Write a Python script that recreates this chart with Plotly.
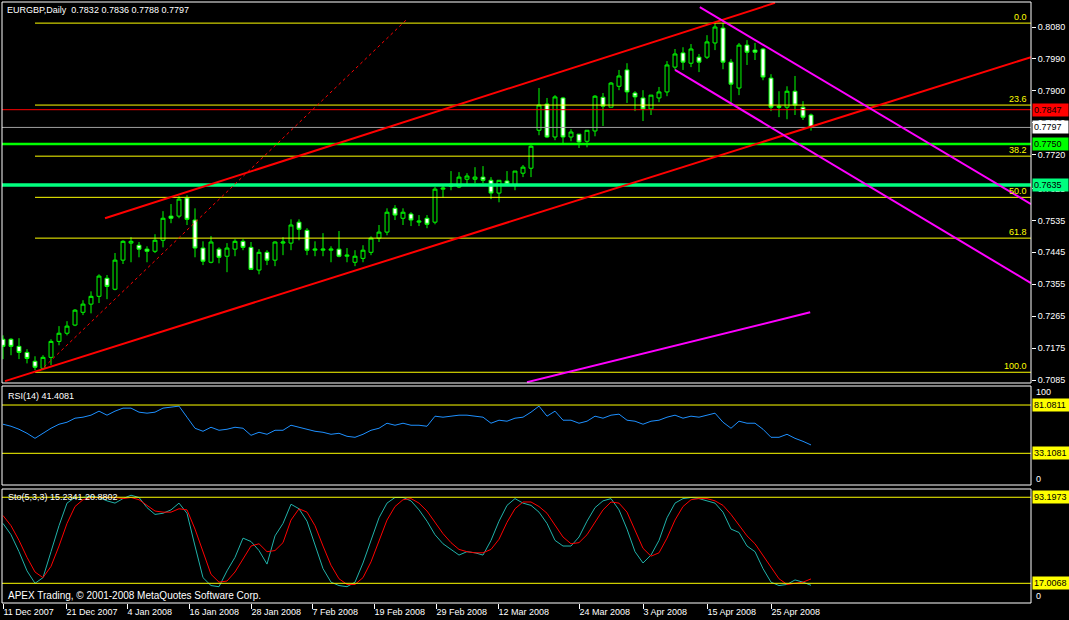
import plotly.graph_objects as go

# ---------------- data ----------------
bar_idx = list(range(102))
opens = [0.7200,0.7200,0.7180,0.7163,0.7138,0.7118,0.7149,0.7194,0.7217,0.7240,
0.7276,0.7299,0.7321,0.7372,0.7341,0.7423,0.7471,0.7465,0.7454,0.7448,
0.7479,0.7547,0.7547,0.7598,0.7536,0.7457,0.7417,0.7454,0.7434,0.7454,
0.7476,0.7459,0.7395,0.7445,0.7423,0.7471,0.7471,0.7530,0.7507,0.7451,
0.7451,0.7451,0.7454,0.7434,0.7417,0.7428,0.7445,0.7485,0.7502,0.7569,
0.7541,0.7553,0.7530,0.7541,0.7530,0.7623,0.7631,0.7629,0.7651,0.7651,
0.7657,0.7648,0.7612,0.7646,0.7634,0.7668,0.7682,0.7789,0.7863,0.7770,
0.7880,0.7770,0.7778,0.7758,0.7787,0.7882,0.7854,0.7913,0.7959,0.7894,
0.7880,0.7849,0.7880,0.7897,0.7967,0.8007,0.7978,0.7995,0.7995,0.8035,
0.8077,0.7981,0.7908,0.8029,0.8015,0.8018,0.7936,0.7857,0.7854,0.7899,
0.7854,0.7832]
closes = [0.7180,0.7180,0.7163,0.7146,0.7121,0.7149,0.7194,0.7217,0.7237,0.7282,
0.7299,0.7321,0.7378,0.7349,0.7423,0.7476,0.7476,0.7454,0.7448,0.7479,
0.7541,0.7541,0.7595,0.7538,0.7457,0.7420,0.7474,0.7431,0.7457,0.7476,
0.7459,0.7397,0.7445,0.7423,0.7474,0.7474,0.7522,0.7510,0.7451,0.7454,
0.7454,0.7454,0.7434,0.7437,0.7434,0.7451,0.7485,0.7502,0.7558,0.7550,
0.7558,0.7536,0.7533,0.7524,0.7623,0.7626,0.7637,0.7657,0.7660,0.7657,
0.7648,0.7612,0.7648,0.7637,0.7674,0.7685,0.7744,0.7860,0.7770,0.7883,
0.7770,0.7784,0.7756,0.7789,0.7885,0.7857,0.7922,0.7942,0.7897,0.7883,
0.7849,0.7888,0.7897,0.7973,0.8004,0.7981,0.8018,0.7981,0.8038,0.8080,
0.7981,0.7919,0.8029,0.8009,0.8009,0.7939,0.7854,0.7854,0.7899,0.7860,
0.7826,0.7797]
highs = [0.7211,0.7203,0.7203,0.7172,0.7152,0.7155,0.7200,0.7237,0.7251,0.7285,
0.7310,0.7335,0.7383,0.7381,0.7443,0.7479,0.7488,0.7474,0.7462,0.7496,
0.7561,0.7581,0.7603,0.7606,0.7569,0.7476,0.7491,0.7459,0.7471,0.7482,
0.7482,0.7474,0.7454,0.7451,0.7476,0.7488,0.7538,0.7538,0.7513,0.7476,
0.7499,0.7462,0.7505,0.7457,0.7451,0.7465,0.7490,0.7522,0.7569,0.7578,
0.7569,0.7558,0.7550,0.7550,0.7629,0.7637,0.7674,0.7671,0.7668,0.7685,
0.7688,0.7657,0.7648,0.7674,0.7674,0.7691,0.7747,0.7908,0.7880,0.7888,
0.7883,0.7792,0.7778,0.7789,0.7888,0.7894,0.7925,0.7959,0.7978,0.7899,
0.7902,0.7888,0.7911,0.7984,0.8018,0.8023,0.8032,0.8004,0.8057,0.8094,
0.8091,0.7990,0.8035,0.8043,0.8035,0.8021,0.7947,0.7899,0.7913,0.7942,
0.7871,0.7836]
lows = [0.7144,0.7155,0.7144,0.7132,0.7113,0.7113,0.7127,0.7183,0.7211,0.7237,
0.7268,0.7273,0.7302,0.7313,0.7338,0.7412,0.7417,0.7431,0.7417,0.7443,
0.7459,0.7527,0.7541,0.7522,0.7431,0.7409,0.7414,0.7414,0.7389,0.7434,
0.7451,0.7395,0.7383,0.7409,0.7406,0.7437,0.7451,0.7479,0.7437,0.7434,
0.7434,0.7417,0.7431,0.7417,0.7406,0.7417,0.7437,0.7474,0.7493,0.7536,
0.7522,0.7519,0.7519,0.7513,0.7524,0.7600,0.7620,0.7626,0.7634,0.7640,
0.7640,0.7595,0.7586,0.7634,0.7620,0.7657,0.7657,0.7775,0.7767,0.7761,
0.7753,0.7758,0.7739,0.7741,0.7772,0.7801,0.7854,0.7902,0.7866,0.7843,
0.7815,0.7832,0.7868,0.7885,0.7959,0.7959,0.7967,0.7953,0.7990,0.8015,
0.7961,0.7866,0.7888,0.7973,0.7987,0.7930,0.7843,0.7826,0.7820,0.7832,
0.7818,0.7788]

rsi = [62,60,57,53,48,53,58,62,64,68,
69,71,75,71,75,78,78,74,73,74,
78,79,80,69,58,55,59,56,57,59,
58,51,54,52,56,56,61,59,57,55,
54,52,53,50,49,52,56,58,63,61,
63,61,61,60,70,69,70,71,71,70,
69,63,66,65,68,69,74,80,70,75,
66,66,63,65,70,68,71,72,66,65,
62,65,66,69,71,68,70,69,71,73,
64,58,65,63,63,57,49,49,52,48,
45,41.4081]

stoch_k = [70,60,45,28,17,22,45,68,88,93,93,94,93,90,88,92,95,93,84,78,
79,82,88,79,50,22,15,14,28,40,57,54,46,34,59,70,87,83,
72,50,30,18,15,14,18,35,55,75,88,93,93,90,82,72,60,52,47,42,
45,44,42,55,72,86,92,88,86,80,70,55,50,50,58,72,84,90,92,82,
65,45,35,42,55,75,88,92,93,92,90,88,80,65,62,50,45,30,18,15,
16,20,18,15.2341]
stoch_d = [77,68,55,40,27,22,32,50,70,85,91,93,93,93,93,92,93,91,86,81,
80,80,83,82,65,45,25,18,19,27,39,50,52,45,46,53,73,83,
80,68,50,33,21,16,16,22,36,55,73,85,91,92,88,81,71,61,53,47,
45,44,44,47,56,71,83,89,89,85,79,68,58,52,53,60,71,82,89,88,
80,64,48,41,44,57,73,85,91,92,92,90,86,78,69,59,52,42,31,21,
16,17,18,20.8802]

date_labels = ["11 Dec 2007", "21 Dec 2007", "4 Jan 2008", "16 Jan 2008", "28 Jan 2008",
               "7 Feb 2008", "19 Feb 2008", "29 Feb 2008", "12 Mar 2008", "24 Mar 2008",
               "3 Apr 2008", "15 Apr 2008", "25 Apr 2008"]
date_bars = [0, 7.875, 15.5, 23.25, 31, 38.625, 46.375, 54.125, 61.875, 72, 80, 88, 96]

price_ticks = [0.8080, 0.7990, 0.7900, 0.7810, 0.7720, 0.7625, 0.7535, 0.7445,
               0.7355, 0.7265, 0.7175, 0.7085]

fib_names = ["0.0", "23.6", "38.2", "50.0", "61.8", "100.0"]
fib_prices = [0.8091, 0.7860, 0.7716, 0.7600, 0.7485, 0.7107]
fib_start_bar = 4

hline_prices = [0.7847, 0.7797, 0.7750, 0.7635]
hline_labels = ["0.7847", "0.7797", "0.7750", "0.7635"]

rsi_levels = [81.0811, 33.1081]
sto_levels = [93.1973, 17.0068]

# trend lines: (bar, price) anchor pairs
red_lower = [(0.25, 0.7082), (128.5, 0.7995)]
red_upper = [(12.75, 0.7541), (96.5, 0.8148)]
red_dotted = [(4.6, 0.7110), (50.5, 0.8102)]
mag_upper = [(87.1, 0.8136), (128.5, 0.7581)]
mag_lower = [(84.0, 0.7959), (128.5, 0.7358)]
mag_bottom = [(65.5, 0.7079), (100.9, 0.7276)]

# ---------------- layout helpers ----------------
W, H = 1069, 620
PT, PB, PL, PR = 2, 603, 2, 1031


def py(p):
    return (PB - p) / (PB - PT)


FONT = "Liberation Sans"
WHITE = "#FFFFFF"
YEL = "#FFFF00"
FS = 9

fig = go.Figure()

fig.add_trace(go.Candlestick(
    x=bar_idx, open=opens, high=highs, low=lows, close=closes,
    increasing=dict(line=dict(color="#00FF00", width=1), fillcolor="#000000"),
    decreasing=dict(line=dict(color="#00FF00", width=1), fillcolor="#FFFFFF"),
    whiskerwidth=0, xaxis="x", yaxis="y", hoverinfo="skip", showlegend=False))

fig.add_trace(go.Scatter(x=bar_idx, y=rsi, mode="lines", line=dict(color="#1E90FF", width=1),
                         xaxis="x2", yaxis="y2", hoverinfo="skip", showlegend=False))
fig.add_trace(go.Scatter(x=bar_idx, y=stoch_k, mode="lines", line=dict(color="#20B2AA", width=1),
                         xaxis="x3", yaxis="y3", hoverinfo="skip", showlegend=False))
fig.add_trace(go.Scatter(x=bar_idx, y=stoch_d, mode="lines", line=dict(color="#FF0000", width=1),
                         xaxis="x3", yaxis="y3", hoverinfo="skip", showlegend=False))

shapes = []
for pr in fib_prices:
    shapes.append(dict(type="line", xref="x", yref="y", x0=fib_start_bar, x1=128.5,
                       y0=pr, y1=pr, line=dict(color=YEL, width=1)))
hstyles = [("#FF0000", 1), ("#A0A0A0", 1), ("#00FF00", 2.5), ("#00FF7F", 3.5)]
for pr, (c, w) in zip(hline_prices, hstyles):
    shapes.append(dict(type="line", xref="paper", yref="y", x0=0, x1=1, y0=pr, y1=pr,
                       line=dict(color=c, width=w)))
for pts, c, w, d in [(red_lower, "#FF0000", 2, "solid"), (red_upper, "#FF0000", 2, "solid"),
                     (red_dotted, "#FF0000", 1, "dot"), (mag_upper, "#FF00FF", 2, "solid"),
                     (mag_lower, "#FF00FF", 2, "solid"), (mag_bottom, "#FF00FF", 2, "solid")]:
    shapes.append(dict(type="line", xref="x", yref="y", x0=pts[0][0], y0=pts[0][1],
                       x1=pts[1][0], y1=pts[1][1], line=dict(color=c, width=w, dash=d)))
for lv in rsi_levels:
    shapes.append(dict(type="line", xref="paper", yref="y2", x0=0, x1=1, y0=lv, y1=lv,
                       line=dict(color=YEL, width=1)))
for lv in sto_levels:
    shapes.append(dict(type="line", xref="paper", yref="y3", x0=0, x1=1, y0=lv, y1=lv,
                       line=dict(color=YEL, width=1)))
for top, bot in [(2, 383), (386, 485), (489, 603)]:
    shapes.append(dict(type="rect", xref="paper", yref="paper", x0=0, x1=1,
                       y0=py(bot), y1=py(top), line=dict(color=WHITE, width=1)))

ann = []
ann.append(dict(xref="paper", yref="paper", x=0, y=py(10), xanchor="left", yanchor="middle",
                xshift=3, showarrow=False,
                text="EURGBP,Daily\u00a0\u00a0" + " ".join(f"{v:.4f}" for v in
                     [opens[-1], highs[-1], lows[-1], closes[-1]]),
                font=dict(family=FONT, size=FS, color=WHITE)))
ann.append(dict(xref="paper", yref="paper", x=0, y=py(396), xanchor="left", yanchor="middle",
                xshift=4, showarrow=False, text=f"RSI(14) {rsi[-1]:.4f}",
                font=dict(family=FONT, size=FS, color=WHITE)))
ann.append(dict(xref="paper", yref="paper", x=0, y=py(497), xanchor="left", yanchor="middle",
                xshift=4, showarrow=False,
                text=f"Sto(5,3,3) {stoch_k[-1]:.4f} {stoch_d[-1]:.4f}",
                font=dict(family=FONT, size=FS, color=WHITE)))
ann.append(dict(xref="paper", yref="paper", x=0, y=py(595), xanchor="left", yanchor="middle",
                xshift=4, showarrow=False,
                text="APEX Trading, \u00a9 2001-2008 MetaQuotes Software Corp.",
                font=dict(family=FONT, size=10, color=WHITE)))
for nm, pr in zip(fib_names, fib_prices):
    ann.append(dict(xref="paper", yref="y", x=1, y=pr, xanchor="right", yanchor="bottom",
                    xshift=-2, yshift=-1, showarrow=False, text=nm,
                    font=dict(family=FONT, size=FS, color=YEL)))
box_cols = [("#FF0000", "#000000"), ("#FFFFFF", "#000000"), ("#00FF00", "#000000"),
            ("#00FF7F", "#000000")]
for pr, lb, (bg, fg) in zip(hline_prices, hline_labels, box_cols):
    ann.append(dict(xref="paper", yref="y", x=1, y=pr, xanchor="left", yanchor="middle",
                    xshift=1, showarrow=False, text=lb, bgcolor=bg, width=33, height=10,
                    align="left", borderpad=1, font=dict(family=FONT, size=FS, color=fg)))
for lv in rsi_levels:
    ann.append(dict(xref="paper", yref="y2", x=1, y=lv, xanchor="left", yanchor="middle",
                    xshift=1, showarrow=False, text=f"{lv:.4f}", bgcolor=YEL, width=34,
                    height=10, align="left", borderpad=1,
                    font=dict(family=FONT, size=FS, color="#000000")))
for lv in sto_levels:
    ann.append(dict(xref="paper", yref="y3", x=1, y=lv, xanchor="left", yanchor="middle",
                    xshift=1, showarrow=False, text=f"{lv:.4f}", bgcolor=YEL, width=34,
                    height=10, align="left", borderpad=1,
                    font=dict(family=FONT, size=FS, color="#000000")))
for txt, ypix in [("100", 392), ("0", 479), ("0", 596)]:
    ann.append(dict(xref="paper", yref="paper", x=1, y=py(ypix), xanchor="left",
                    yanchor="middle", xshift=3, showarrow=False, text=txt,
                    font=dict(family=FONT, size=FS, color=WHITE)))

xr = [-0.125, 128.5]
common_x = dict(range=xr, showgrid=False, zeroline=False, showline=False, automargin=False,
                showticklabels=False, ticks="", rangeslider=dict(visible=False))

fig.update_layout(
    width=W, height=H,
    margin=dict(l=PL, r=W - PR, t=PT, b=H - PB, autoexpand=False),
    paper_bgcolor="#000000", plot_bgcolor="#000000",
    hovermode=False, showlegend=False,
    xaxis=dict(common_x, anchor="y"),
    xaxis2=dict(common_x, anchor="y2", matches="x"),
    xaxis3=dict(range=xr, anchor="y3", matches="x", showgrid=False, zeroline=False,
                showline=False, tickmode="array", tickvals=date_bars, ticktext=date_labels,
                ticks="outside", ticklen=5, tickcolor=WHITE, tickwidth=1, tickangle=0,
                automargin=False, ticklabelposition="outside right",
                tickfont=dict(family=FONT, size=FS, color=WHITE)),
    yaxis=dict(domain=[py(383), 1.0], range=[0.70767, 0.81505], side="right",
               showgrid=False, zeroline=False, showline=False, tickmode="array",
               tickvals=price_ticks, ticktext=[f"{t:.4f}" for t in price_ticks],
               ticks="outside", ticklen=4, tickcolor=WHITE, automargin=False,
               tickfont=dict(family=FONT, size=FS, color=WHITE), anchor="x"),
    yaxis2=dict(domain=[py(485), py(386)], range=[1.6, 100], showgrid=False, zeroline=False,
                showticklabels=False, anchor="x2", automargin=False),
    yaxis3=dict(domain=[0, py(489)], range=[-0.44, 100.5], showgrid=False, zeroline=False,
                showticklabels=False, anchor="x3", automargin=False),
    shapes=shapes, annotations=ann,
)

fig.write_html("out.html", config={"displayModeBar": False},
               post_script="document.body.style.margin='0';document.body.style.background='#000';")
